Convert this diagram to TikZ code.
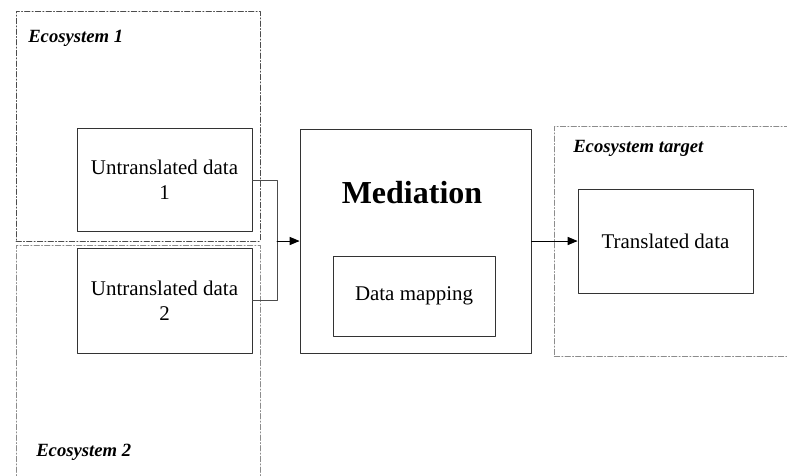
\documentclass[tikz,border=0pt]{standalone}
\usepackage{fontspec}
\setmainfont{Liberation Serif}
\usepackage{tikz}
\usetikzlibrary{arrows}
\definecolor{ecodark}{rgb}{0.3,0.3,0.3}
\definecolor{ecolight}{rgb}{0.55,0.55,0.55}
\definecolor{boxline}{rgb}{0.2,0.2,0.2}
\newcommand{\bodysize}{\fontsize{15.7}{18.8}\selectfont}
\newcommand{\ecosize}{\fontsize{14}{16.8}\selectfont}

\begin{document}
\begin{tikzpicture}[line cap=round,line join=round,>=triangle 45,x=0.75pt,y=-0.75pt,
  ecobox/.style={draw,dash pattern=on 4pt off 1.6pt on 0.8pt off 1.6pt,line width=0.65pt,inner sep=0pt},
  databox/.style={draw=boxline,line width=0.75pt,inner sep=0pt,align=center,font=\bodysize},
  ecolabel/.style={anchor=west,inner sep=0pt,font=\ecosize\bfseries\itshape}]
\useasboundingbox (0,0) rectangle (787,475);
\clip (0,0) rectangle (787,475);
% ecosystems
\node[ecobox,color=ecodark,minimum width=183pt,minimum height=172.5pt] (eco1) at (138,126) {};
\node[ecobox,color=ecolight,minimum width=183pt,minimum height=187.5pt] (eco2) at (138,370) {};
\node[ecobox,color=ecolight,minimum width=190pt,minimum height=172.5pt] (ecotgt) at (681,241) {};
\node[ecolabel] (eco1lbl) at (28,38) {Ecosystem 1};
\node[ecolabel] (eco2lbl) at (36,452) {Ecosystem 2};
\node[ecolabel] (ecotgtlbl) at (573,148) {Ecosystem target};
% data boxes
\node[databox,minimum width=131.25pt,minimum height=77.25pt] (untr1) at (164.5,180) {Untranslated data\\1};
\node[databox,minimum width=131.25pt,minimum height=78.75pt] (untr2) at (164.5,300.5) {Untranslated data\\2};
\node[databox,minimum width=173.25pt,minimum height=168pt] (med) at (415.5,241) {};
\node[inner sep=0pt,font=\fontsize{24}{28}\selectfont\bfseries] (medlbl) at (412,193) {Mediation};
\node[databox,minimum width=121.5pt,minimum height=60pt] (mapping) at (414,296) {Data mapping};
\node[databox,minimum width=131.25pt,minimum height=78pt] (trans) at (665.5,241) {Translated data};
% connectors
\coordinate (junc) at (277,241);
\draw[color=ecodark,line width=0.7pt] (untr1.east) -| (junc);
\draw[color=ecodark,line width=0.7pt] (untr2.east) -| (junc);
\draw[->,line width=0.7pt] (junc) -- (med.west);
\draw[->,line width=0.7pt] (med.east) -- (trans.west);
\end{tikzpicture}
\end{document}
